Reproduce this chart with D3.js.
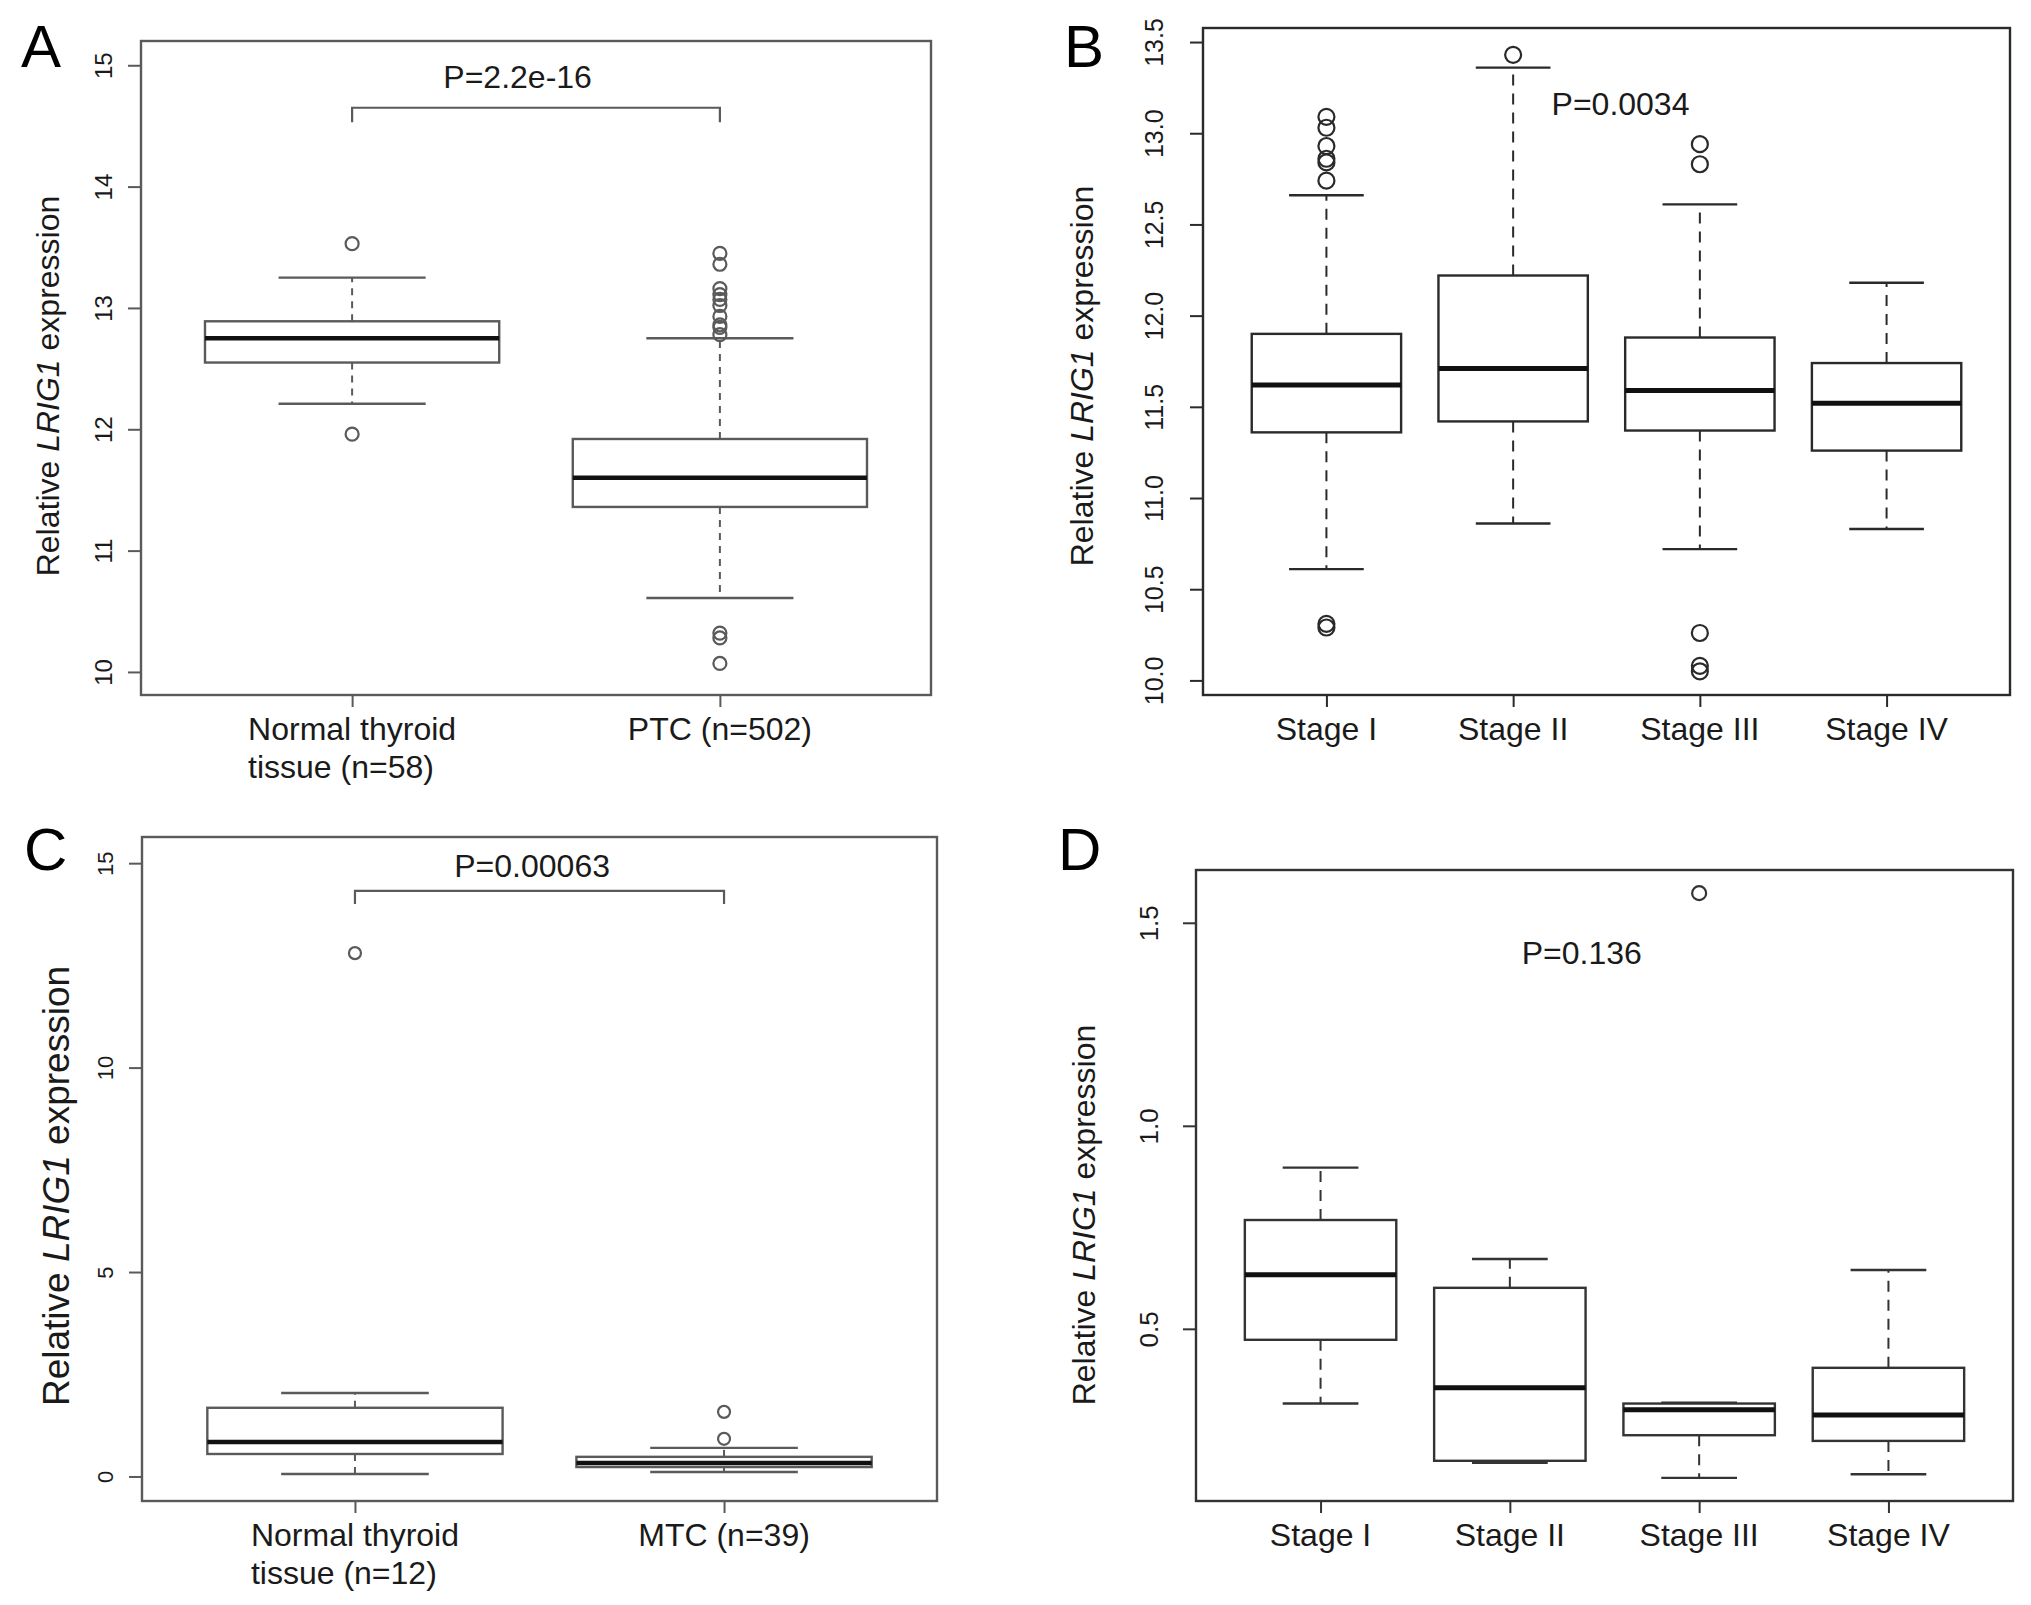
<!DOCTYPE html>
<html>
<head>
<meta charset="utf-8">
<script src="https://cdn.jsdelivr.net/npm/d3@7"></script>
<style>
  body { margin: 0; background: #fff; }
  text { font-family: "Liberation Sans", Arial, Helvetica, sans-serif; fill: #1a1a1a; }
</style>
</head>
<body>
<svg id="fig" width="2031" height="1605"></svg>
<script>
// ---------- data ----------
// Panel A: normal thyroid vs PTC
var groupsA = ["Normal thyroid\ntissue (n=58)", "PTC (n=502)"];
var lowA    = [12.21, 10.61];
var q1A     = [12.55, 11.36];
var medA    = [12.75, 11.60];
var q3A     = [12.89, 11.92];
var highA   = [13.25, 12.75];
var outA    = [[13.53, 11.96],
               [13.45, 13.36, 13.16, 13.11, 13.07, 13.02, 12.93, 12.86, 12.84, 12.78, 10.32, 10.28, 10.07]];
var ticksA  = [10, 11, 12, 13, 14, 15];

// Panel B: PTC by stage
var groupsB = ["Stage I", "Stage II", "Stage III", "Stage IV"];
var lowB    = [10.61, 10.86, 10.72, 10.83];
var q1B     = [11.36, 11.42, 11.37, 11.26];
var medB    = [11.62, 11.71, 11.59, 11.52];
var q3B     = [11.90, 12.22, 11.88, 11.74];
var highB   = [12.66, 13.36, 12.61, 12.18];
var outB    = [[13.09, 13.03, 12.93, 12.86, 12.84, 12.74, 10.31, 10.29],
               [13.43],
               [12.94, 12.83, 10.26, 10.08, 10.05],
               []];
var ticksB  = [10.0, 10.5, 11.0, 11.5, 12.0, 12.5, 13.0, 13.5];

// Panel C: normal thyroid vs MTC
var groupsC = ["Normal thyroid\ntissue (n=12)", "MTC (n=39)"];
var lowC    = [0.06, 0.11];
var q1C     = [0.55, 0.23];
var medC    = [0.84, 0.33];
var q3C     = [1.68, 0.48];
var highC   = [2.04, 0.70];
var outC    = [[12.8], [1.58, 0.92]];
var ticksC  = [0, 5, 10, 15];

// Panel D: MTC by stage
var groupsD = ["Stage I", "Stage II", "Stage III", "Stage IV"];
var lowD    = [0.316, 0.170, 0.133, 0.142];
var q1D     = [0.473, 0.175, 0.238, 0.224];
var medD    = [0.633, 0.355, 0.301, 0.288];
var q3D     = [0.768, 0.601, 0.316, 0.404];
var highD   = [0.897, 0.672, 0.318, 0.645];
var outD    = [[], [], [1.573], []];
var ticksD  = [0.5, 1.0, 1.5];

// p-value annotations: [label, x position (group units), y value]
var pA = ["P=2.2e-16", 1.45, 14.81];
var pB = ["P=0.0034", 2.575, 13.10];
var pC = ["P=0.00063", 1.48, 14.66];
var pD = ["P=0.136", 2.38, 1.399];
// brackets: [y of bar, y of ends]
var bracketA = [14.65, 14.53];
var bracketC = [14.32, 14.00];

var svg = d3.select("#fig");

/**
 * Draws one R-style boxplot panel
 */
function drawPanel(cfg){
    var g = svg.append("g");
    var stroke = cfg.color;

    var x = d3.scalePoint()
        .domain(d3.range(cfg.groups.length))
        .range([cfg.left, cfg.right])
        .padding(cfg.pad);
    var step = x.step();
    var boxW = 0.8 * step;

    var y = d3.scaleLinear()
        .domain(cfg.ydom)
        .range([cfg.bottom, cfg.top]);

    // y axis
    var yAxis = g.append("g")
        .attr("transform", "translate(" + cfg.left + ",0)")
        .call(d3.axisLeft(y).tickValues(cfg.ticks).tickSize(13).tickFormat(d3.format(cfg.fmt)));
    yAxis.select(".domain").remove();
    yAxis.selectAll(".tick line").attr("stroke", stroke).attr("stroke-width", 2);
    yAxis.selectAll(".tick text")
        .attr("x", null).attr("dy", null)
        .attr("transform", "translate(" + (-cfg.tickOff) + ",0) rotate(-90)")
        .attr("text-anchor", "middle")
        .style("font-size", cfg.tickFont + "px")
        .style("font-family", "'Liberation Sans', Arial, sans-serif")
        .attr("fill", "#222");

    // x axis ticks
    var xAxis = g.append("g")
        .attr("transform", "translate(0," + cfg.bottom + ")")
        .call(d3.axisBottom(x).tickSize(12).tickFormat(""));
    xAxis.select(".domain").remove();
    xAxis.selectAll(".tick line").attr("stroke", stroke).attr("stroke-width", 2);

    // x labels (multi-line labels left-aligned like the original)
    cfg.groups.forEach(function(label, i){
        var lines = label.split("\n");
        var t = g.append("text")
            .attr("y", cfg.bottom + 45)
            .style("font-size", "32px");
        var first = t.append("tspan").text(lines[0]);
        var w = first.node().getComputedTextLength();
        var x0 = x(i) - w / 2;
        first.attr("x", x0);
        for (var k = 1; k < lines.length; k++){
            t.append("tspan").attr("x", x0).attr("dy", 38).text(lines[k]);
        }
    });

    // boxes
    var boxes = g.selectAll(".box").data(cfg.groups.map(function(d, i){
        return {i: i, lo: cfg.low[i], q1: cfg.q1[i], med: cfg.med[i], q3: cfg.q3[i], hi: cfg.high[i], out: cfg.out[i]};
    })).enter().append("g");

    boxes.append("line")
        .attr("x1", function(d){ return x(d.i); }).attr("x2", function(d){ return x(d.i); })
        .attr("y1", function(d){ return y(d.q3); }).attr("y2", function(d){ return y(d.hi); })
        .attr("stroke", stroke).attr("stroke-width", 2).attr("stroke-dasharray", cfg.dash);
    boxes.append("line")
        .attr("x1", function(d){ return x(d.i); }).attr("x2", function(d){ return x(d.i); })
        .attr("y1", function(d){ return y(d.q1); }).attr("y2", function(d){ return y(d.lo); })
        .attr("stroke", stroke).attr("stroke-width", 2).attr("stroke-dasharray", cfg.dash);
    // staples
    ["hi", "lo"].forEach(function(k){
        boxes.append("line")
            .attr("x1", function(d){ return x(d.i) - boxW / 4; })
            .attr("x2", function(d){ return x(d.i) + boxW / 4; })
            .attr("y1", function(d){ return y(d[k]); })
            .attr("y2", function(d){ return y(d[k]); })
            .attr("stroke", stroke).attr("stroke-width", 2.4);
    });
    boxes.append("rect")
        .attr("x", function(d){ return x(d.i) - boxW / 2; })
        .attr("width", boxW)
        .attr("y", function(d){ return y(d.q3); })
        .attr("height", function(d){ return y(d.q1) - y(d.q3); })
        .attr("fill", "white")
        .attr("stroke", stroke).attr("stroke-width", 2.4);
    boxes.append("line")
        .attr("x1", function(d){ return x(d.i) - boxW / 2; })
        .attr("x2", function(d){ return x(d.i) + boxW / 2; })
        .attr("y1", function(d){ return y(d.med); })
        .attr("y2", function(d){ return y(d.med); })
        .attr("stroke", "#111").attr("stroke-width", cfg.medW);
    boxes.each(function(d){
        d3.select(this).selectAll("circle").data(d.out).enter().append("circle")
            .attr("cx", x(d.i))
            .attr("cy", function(v){ return y(v); })
            .attr("r", cfg.r)
            .attr("fill", "none")
            .attr("stroke", stroke).attr("stroke-width", 2.2);
    });

    // frame
    g.append("rect")
        .attr("x", cfg.left).attr("y", cfg.top)
        .attr("width", cfg.right - cfg.left).attr("height", cfg.bottom - cfg.top)
        .attr("fill", "none").attr("stroke", stroke).attr("stroke-width", 2.4);

    // bracket
    if (cfg.bracket){
        var bx1 = x(0), bx2 = x(1);
        g.append("path")
            .attr("d", "M" + bx1 + "," + y(cfg.bracket[1]) + "V" + y(cfg.bracket[0]) +
                       "H" + bx2 + "V" + y(cfg.bracket[1]))
            .attr("fill", "none").attr("stroke", stroke).attr("stroke-width", 2.2);
    }

    // p value
    g.append("text")
        .attr("x", x(0) + (cfg.p[1] - 1) * step)
        .attr("y", y(cfg.p[2]))
        .attr("text-anchor", "middle")
        .style("font-size", "32px")
        .text(cfg.p[0]);

    // y title
    var yt = g.append("text")
        .attr("transform", "translate(" + cfg.titleX + "," + cfg.titleY + ") rotate(-90)")
        .attr("text-anchor", "middle")
        .style("font-size", cfg.titleFont + "px");
    yt.append("tspan").text("Relative ");
    yt.append("tspan").style("font-style", "italic").text("LRIG1");
    yt.append("tspan").text(" expression");

    // panel letter
    g.append("text")
        .attr("x", cfg.letterX).attr("y", cfg.letterY)
        .style("font-size", "60px")
        .style("fill", "#000")
        .text(cfg.letter);
}

drawPanel({
    letter: "A", letterX: 21, letterY: 67,
    groups: groupsA, low: lowA, q1: q1A, med: medA, q3: q3A, high: highA, out: outA,
    ticks: ticksA, fmt: "d",
    left: 141, right: 931, top: 41, bottom: 695, pad: 0.574, ydom: [9.81, 15.2],
    color: "#5a5a5a", dash: "7,6", medW: 4.5, r: 6.5,
    tickOff: 29, tickFont: 24,
    titleX: 59, titleY: 386, titleFont: 32,
    bracket: bracketA, p: pA
});

drawPanel({
    letter: "B", letterX: 1064, letterY: 67,
    groups: groupsB, low: lowB, q1: q1B, med: medB, q3: q3B, high: highB, out: outB,
    ticks: ticksB, fmt: ".1f",
    left: 1203, right: 2010, top: 28, bottom: 695, pad: 0.661, ydom: [9.92, 13.577],
    color: "#2a2a2a", dash: "11,8", medW: 5, r: 8,
    tickOff: 40, tickFont: 25,
    titleX: 1093, titleY: 376, titleFont: 32,
    bracket: null, p: pB
});

drawPanel({
    letter: "C", letterX: 24, letterY: 870,
    groups: groupsC, low: lowC, q1: q1C, med: medC, q3: q3C, high: highC, out: outC,
    ticks: ticksC, fmt: "d",
    left: 142, right: 937, top: 837, bottom: 1501, pad: 0.577, ydom: [-0.6, 15.64],
    color: "#5a5a5a", dash: "7,6", medW: 4.5, r: 6,
    tickOff: 29, tickFont: 22,
    titleX: 69, titleY: 1186, titleFont: 37,
    bracket: bracketC, p: pC
});

drawPanel({
    letter: "D", letterX: 1058, letterY: 870,
    groups: groupsD, low: lowD, q1: q1D, med: medD, q3: q3D, high: highD, out: outD,
    ticks: ticksD, fmt: ".1f",
    left: 1196, right: 2013, top: 870, bottom: 1501, pad: 0.658, ydom: [0.076, 1.63],
    color: "#333333", dash: "11,8", medW: 5, r: 7,
    tickOff: 38, tickFont: 26,
    titleX: 1095, titleY: 1215, titleFont: 32,
    bracket: null, p: pD
});
</script>
</body>
</html>
